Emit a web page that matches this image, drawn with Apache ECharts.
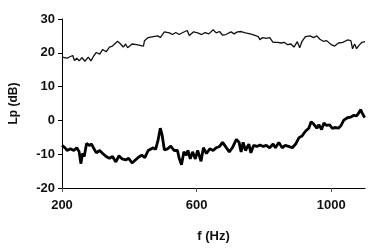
<!DOCTYPE html>
<html>
<head>
<meta charset="utf-8">
<script src="https://cdn.jsdelivr.net/npm/echarts@6/dist/echarts.min.js"></script>
<style>html,body{margin:0;padding:0;background:#fff}#c{width:369px;height:248px}</style>
</head>
<body>
<div id="c"></div>
<script>
const xTicks = [200, 600, 1000];
const yTicks = [-20, -10, 0, 10, 20, 30];

const freqUpper = [200,215,225,232,237,244,251,259,268,278,286,295,302,312,321,331,341,350,365,374,382,389,395,408,422,432,442,445,456,471,485,492,504,519,528,538,548,559,572,578,591,603,615,625,636,649,658,668,677,687,702,711,721,732,745,759,771,783,788,796,807,817,827,841,851,860,870,880,889,899,906,913,923,937,947,957,966,976,986,1000,1010,1021,1034,1048,1058,1063,1069,1075,1082,1091,1100];
const lpUpper = [18.7,18.4,18.9,19.2,17.7,18.4,17.6,18.6,17.5,18.7,17.6,19.2,20.1,19.6,21,20.3,21.7,22,23.4,22.6,21.7,22.6,21.5,22.6,22.4,22.2,22,23.6,24.5,24.8,25,24.5,26.2,25.9,25.4,26,25.4,26,26.6,25.1,26.2,25.9,25.4,26,25.6,26.8,25.9,26.3,25.2,25.4,26.2,25.6,26.2,26.3,25.9,25.6,25.2,24.8,23.9,24.5,24.3,24.5,23.1,23.1,22.9,23.1,22.4,22.6,21.7,23.3,21.5,23.4,24.8,25,24.5,25,24,23.4,23.6,22.4,22,22.9,23.1,23.8,23.6,21.2,22.6,21.2,22.2,23.1,23.3];

const freqLower = [200,209,215,225,235,244,251,256,261,266,273,281,288,295,302,312,321,331,341,350,360,369,379,389,398,408,418,427,437,446,456,471,478,485,492,497,504,514,523,533,543,548,555,562,569,574,581,588,596,603,613,620,629,639,649,658,668,677,687,697,706,718,726,732,738,745,755,761,769,779,788,798,807,817,827,834,844,854,863,873,884,894,904,913,923,933,940,947,957,963,971,978,986,995,1003,1010,1021,1029,1037,1048,1058,1067,1075,1082,1087,1091,1099];
const lpLower = [-7.4,-8.1,-8.9,-8.4,-8.9,-8.1,-9.3,-12.8,-9.8,-10.7,-6.8,-7.4,-7,-8.4,-9.6,-8.9,-9.8,-10.7,-11.2,-10.7,-12.3,-10.5,-11.4,-11.7,-11.2,-12.6,-11.7,-10.9,-10.3,-11,-8.9,-8.1,-8.6,-6,-2.3,-4.1,-8.7,-8.4,-7.6,-8.9,-8.9,-11.2,-13.1,-9.3,-10.3,-8.9,-11.4,-9.3,-11.4,-8.9,-12.1,-8.1,-9.8,-8.4,-8.9,-8.1,-7.7,-6.5,-7.9,-9.3,-8.1,-5.6,-6.5,-9.3,-6.5,-8.9,-7,-9.6,-7.4,-7.7,-7.3,-7.7,-7.4,-8.1,-7,-8.1,-6.5,-8.1,-7.4,-7.7,-8.1,-7,-5.1,-4.6,-3.2,-2.3,-0.4,-1,-2.3,-1.3,-2.7,-0.8,-1.5,-1.3,-2.4,-2.1,-2.3,-1.5,0.1,0.8,1,1.5,1.3,2.3,3.2,2.3,0.8];

const pair = (xs, ys) => xs.map((x, i) => [x, ys[i]]);
const font = 'Liberation Sans, Arial, sans-serif';

const chart = echarts.init(document.getElementById('c'), null, {renderer: 'canvas'});
chart.setOption({
  animation: false,
  backgroundColor: '#fff',
  grid: {left: 53, right: 4, top: 19, bottom: 52, containLabel: false},
  xAxis: {
    type: 'value', min: 200, max: 1100, interval: 400,
    name: 'f (Hz)', nameLocation: 'middle', nameGap: 42,
    nameTextStyle: {fontFamily: font, fontWeight: 'bold', fontSize: 13, color: '#111'},
    axisLine: {show: true, onZero: false, lineStyle: {color: '#000', width: 1}},
    axisTick: {show: true, length: 4, customValues: xTicks, lineStyle: {color: '#555'}},
    axisLabel: {customValues: xTicks, margin: 11, fontFamily: font, fontWeight: 'bold', fontSize: 13, color: '#111',
      formatter: v => String(v)},
    splitLine: {show: false}
  },
  yAxis: {
    type: 'value', min: -20, max: 30, interval: 10,
    name: 'Lp (dB)', nameLocation: 'middle', nameGap: 42, nameRotate: 90,
    nameTextStyle: {fontFamily: font, fontWeight: 'bold', fontSize: 12, color: '#111'},
    axisLine: {show: true, onZero: false, lineStyle: {color: '#000', width: 1}},
    axisTick: {show: true, length: 4, lineStyle: {color: '#000'}},
    axisLabel: {margin: 7, fontFamily: font, fontWeight: 'bold', fontSize: 13, color: '#111',
      formatter: v => yTicks.includes(v) ? String(v) : ''},
    splitLine: {show: false}
  },
  series: [
    {type: 'line', data: pair(freqUpper, lpUpper), showSymbol: false, symbol: 'none',
     lineStyle: {color: '#111', width: 1.3}},
    {type: 'line', data: pair(freqLower, lpLower), showSymbol: false, symbol: 'none',
     lineStyle: {color: '#000', width: 2.8}}
  ]
});
</script>
</body>
</html>
